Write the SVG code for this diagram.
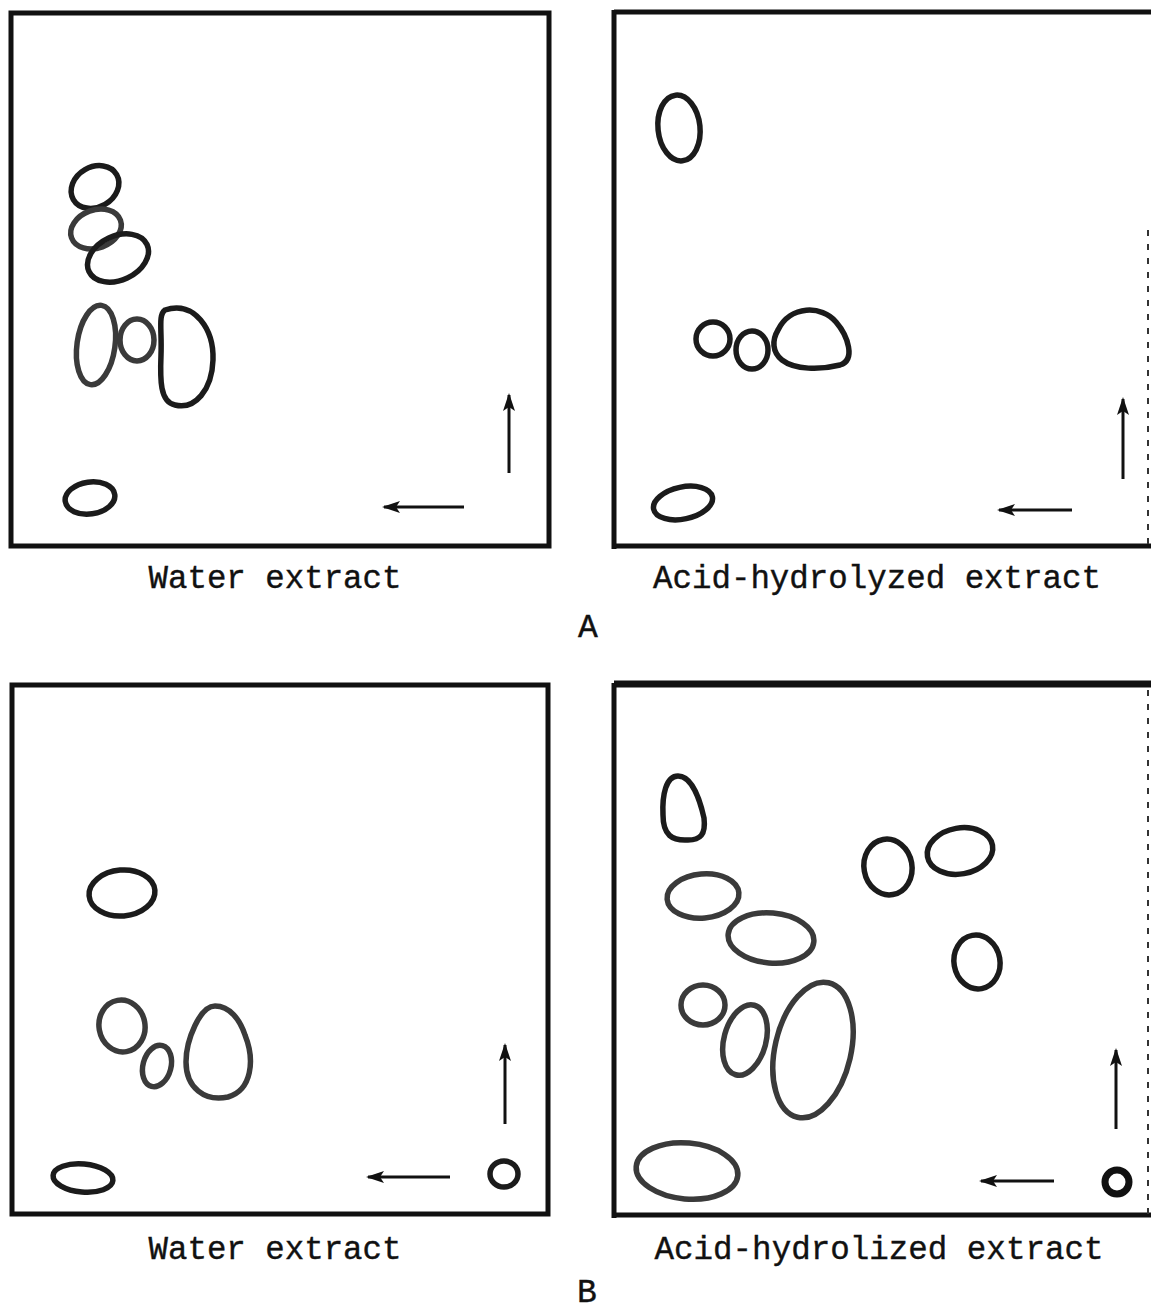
<svg xmlns="http://www.w3.org/2000/svg" width="1151" height="1310" viewBox="0 0 1151 1310">
<style>
.frame{fill:none;stroke:#111;stroke-width:5}
.edge{fill:none;stroke:#111;stroke-width:5}
.dash{fill:none;stroke:#333;stroke-width:2;stroke-dasharray:6 8}
.spot{fill:none;stroke:#1b1b1b;stroke-width:5.5}
.light{stroke:#3a3a3a}
.arr{stroke:#111;stroke-width:3;fill:none}
.lbl{font-family:"Liberation Mono","DejaVu Sans Mono",monospace;font-size:33px;fill:#111;stroke:#111;stroke-width:0.4}
</style>
<defs>
<marker id="ah" viewBox="0 0 18 12" refX="16" refY="6" markerWidth="18" markerHeight="12" markerUnits="userSpaceOnUse" orient="auto-start-reverse">
<path d="M0,0 L18,6 L0,12 L4,6 Z" fill="#111"/>
</marker>
</defs>
<rect width="1151" height="1310" fill="#fff"/>

<g id="panel-A-water">
<rect class="frame" x="11" y="13" width="538" height="533"/>
<g id="A1-spots">
<ellipse class="spot" cx="95" cy="187" rx="25" ry="20" transform="rotate(-30 95 187)"/>
<ellipse class="spot light" cx="96" cy="229" rx="26" ry="19" transform="rotate(-20 96 229)"/>
<ellipse class="spot" cx="118" cy="258" rx="32" ry="22" transform="rotate(-25 118 258)"/>
<ellipse class="spot light" cx="96" cy="345" rx="19" ry="40" transform="rotate(8 96 345)"/>
<ellipse class="spot light" cx="137" cy="340" rx="17" ry="21"/>
<path class="spot" d="M165,310 C195,300 214,330 213,360 C212,390 195,410 175,405 C160,402 160,380 161,355 C162,330 158,315 165,310 Z"/>
<ellipse class="spot" cx="90" cy="498" rx="25" ry="16" transform="rotate(-8 90 498)"/>
</g>
<g class="arrows">
<line class="arr" x1="509" y1="473" x2="509" y2="395" marker-end="url(#ah)"/>
<line class="arr" x1="464" y1="507" x2="384" y2="507" marker-end="url(#ah)"/>
</g>
</g>

<g id="panel-A-acid">
<line class="edge" x1="614" y1="12" x2="1151" y2="12"/>
<line class="edge" x1="614" y1="10" x2="614" y2="549"/>
<line class="edge" x1="614" y1="546" x2="1151" y2="546"/>
<line class="dash" x1="1148" y1="230" x2="1148" y2="546"/>
<g id="A2-spots">
<ellipse class="spot" cx="679" cy="128" rx="21" ry="33" transform="rotate(-6 679 128)"/>
<ellipse class="spot" cx="713" cy="339" rx="17" ry="17"/>
<ellipse class="spot" cx="752" cy="350" rx="16" ry="19"/>
<path class="spot" d="M778,330 C790,305 822,305 836,322 C848,336 856,360 840,365 C820,370 795,370 782,360 C772,352 772,340 778,330 Z"/>
<ellipse class="spot" cx="683" cy="503" rx="30" ry="16" transform="rotate(-12 683 503)"/>
</g>
<g class="arrows">
<line class="arr" x1="1123" y1="479" x2="1123" y2="399" marker-end="url(#ah)"/>
<line class="arr" x1="1072" y1="510" x2="999" y2="510" marker-end="url(#ah)"/>
</g>
</g>

<g id="panel-B-water">
<rect class="frame" x="12" y="685" width="536" height="529"/>
<g id="B1-spots">
<ellipse class="spot" cx="122" cy="893" rx="33" ry="23" transform="rotate(-5 122 893)"/>
<ellipse class="spot light" cx="122" cy="1026" rx="23" ry="26" transform="rotate(-10 122 1026)"/>
<ellipse class="spot light" cx="157" cy="1066" rx="14" ry="21" transform="rotate(15 157 1066)"/>
<path class="spot light" d="M215,1006 C230,1006 240,1020 245,1035 C255,1060 252,1090 228,1097 C205,1102 186,1088 186,1062 C186,1040 200,1006 215,1006 Z"/>
<ellipse class="spot" cx="83" cy="1178" rx="30" ry="14" transform="rotate(5 83 1178)"/>
<ellipse class="spot" cx="504" cy="1174" rx="14" ry="13"/>
</g>
<g class="arrows">
<line class="arr" x1="505" y1="1124" x2="505" y2="1045" marker-end="url(#ah)"/>
<line class="arr" x1="450" y1="1177" x2="368" y2="1177" marker-end="url(#ah)"/>
</g>
</g>

<g id="panel-B-acid">
<line class="edge" x1="614" y1="685" x2="1151" y2="685"/>
<line class="edge" x1="614" y1="683" x2="1151" y2="683"/>
<line class="edge" x1="614" y1="683" x2="614" y2="1218"/>
<line class="edge" x1="614" y1="1215" x2="1151" y2="1215"/>
<line class="dash" x1="1148" y1="690" x2="1148" y2="1215"/>
<g id="B2-spots">
<path class="spot" d="M678,776 C692,776 700,800 704,818 C706,835 700,840 688,840 C672,841 663,835 663,815 C662,795 666,776 678,776 Z"/>
<ellipse class="spot light" cx="703" cy="896" rx="36" ry="22" transform="rotate(-5 703 896)"/>
<ellipse class="spot light" cx="771" cy="938" rx="43" ry="25" transform="rotate(5 771 938)"/>
<ellipse class="spot light" cx="703" cy="1005" rx="22" ry="20"/>
<ellipse class="spot light" cx="745" cy="1040" rx="21" ry="36" transform="rotate(15 745 1040)"/>
<ellipse class="spot light" cx="813" cy="1050" rx="38" ry="69" transform="rotate(13 813 1050)"/>
<ellipse class="spot" cx="888" cy="867" rx="24" ry="28" transform="rotate(-10 888 867)"/>
<ellipse class="spot" cx="960" cy="851" rx="33" ry="23" transform="rotate(-10 960 851)"/>
<ellipse class="spot" cx="977" cy="962" rx="23" ry="27" transform="rotate(-10 977 962)"/>
<ellipse class="spot light" cx="687" cy="1171" rx="51" ry="28" transform="rotate(5 687 1171)"/>
<circle cx="1117" cy="1182" r="12" fill="none" stroke="#111" stroke-width="7"/>
</g>
<g class="arrows">
<line class="arr" x1="1116" y1="1129" x2="1116" y2="1050" marker-end="url(#ah)"/>
<line class="arr" x1="1054" y1="1181" x2="981" y2="1181" marker-end="url(#ah)"/>
</g>
</g>

<g id="labels">
<text class="lbl" x="275" y="588" text-anchor="middle" textLength="253" lengthAdjust="spacingAndGlyphs">Water extract</text>
<text class="lbl" x="877" y="588" text-anchor="middle" textLength="448" lengthAdjust="spacingAndGlyphs">Acid-hydrolyzed extract</text>
<text class="lbl" x="588" y="637" text-anchor="middle">A</text>
<text class="lbl" x="275" y="1259" text-anchor="middle" textLength="253" lengthAdjust="spacingAndGlyphs">Water extract</text>
<text class="lbl" x="879" y="1259" text-anchor="middle" textLength="449" lengthAdjust="spacingAndGlyphs">Acid-hydrolized extract</text>
<text class="lbl" x="587" y="1302" text-anchor="middle">B</text>
</g>
</svg>
